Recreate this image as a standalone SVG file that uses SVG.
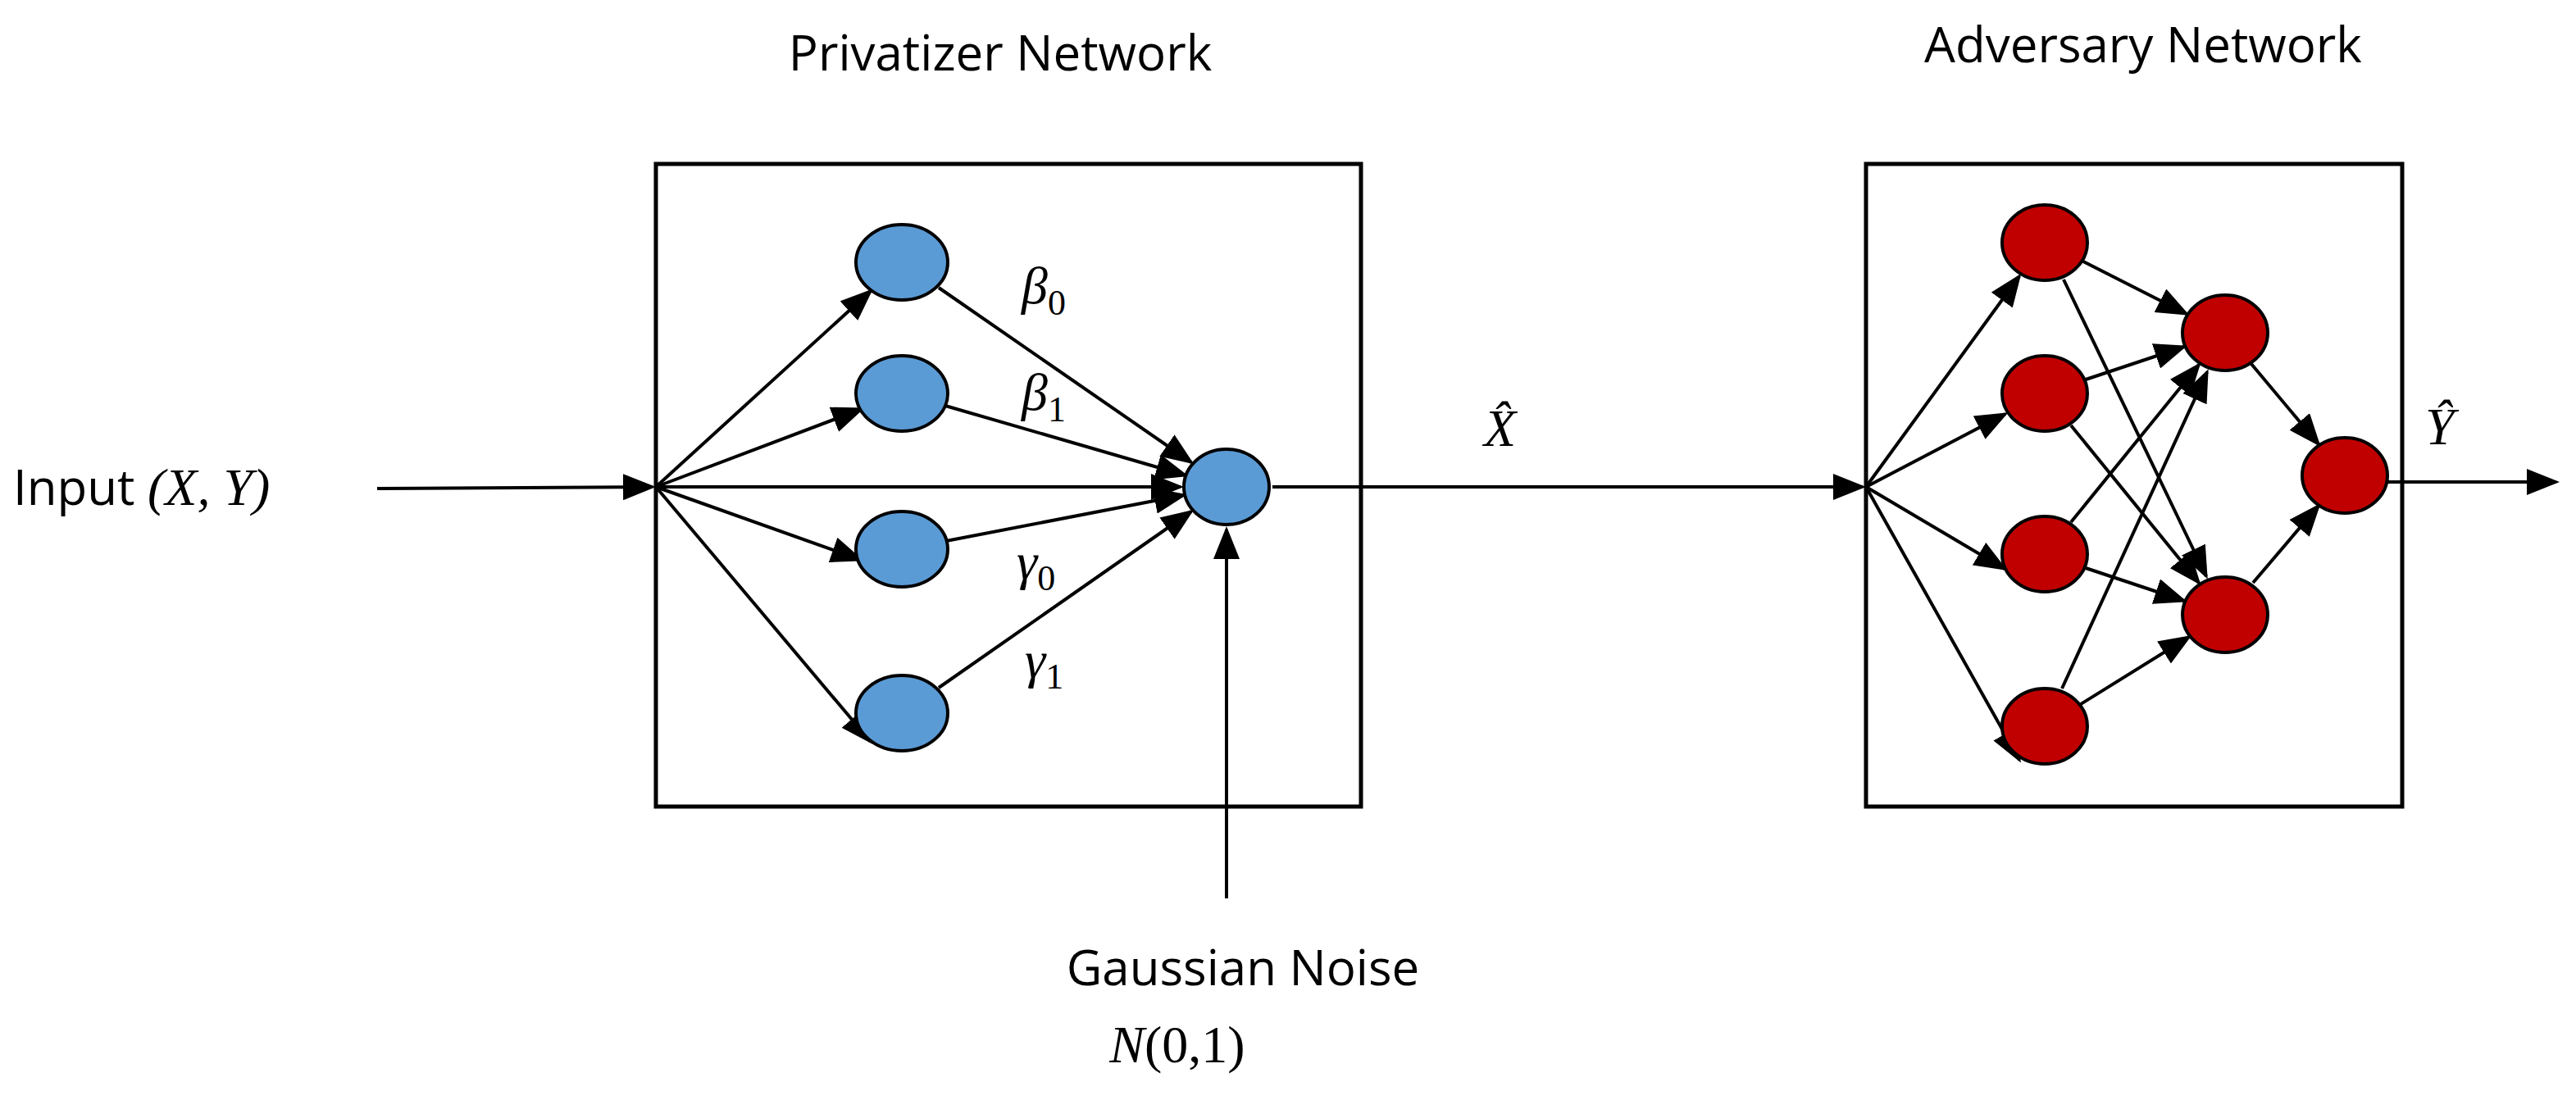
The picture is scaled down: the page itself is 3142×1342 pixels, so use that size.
<svg xmlns="http://www.w3.org/2000/svg" width="3142" height="1342" viewBox="0 0 3142 1342">
<style>
.box{fill:none;stroke:#000;stroke-width:5}
.b{fill:#5b9bd5;stroke:#000;stroke-width:4}
.r{fill:#c00000;stroke:#000;stroke-width:4}
.e{stroke:#000;stroke-width:4;fill:none;marker-end:url(#ah)}
.t{font-family:"Open Sans","Liberation Sans",sans-serif;font-size:60px;fill:#000}
.m{font-family:"Liberation Serif",serif;font-style:italic;font-size:64px;fill:#000}
.s{font-size:44px;font-style:normal}
</style>
<defs><marker id="ah" markerWidth="10" markerHeight="8" refX="9" refY="4" orient="auto" markerUnits="strokeWidth"><path d="M0,0 L10,4 L0,8 z" fill="#000"/></marker></defs>
<g id="privatizer"><rect class="box" x="800" y="200" width="860" height="784"/></g>
<g id="adversary"><rect class="box" x="2276" y="200" width="654" height="784"/></g>
<g id="connectors">
<line class="e" x1="460" y1="596" x2="796" y2="594"/>
<line class="e" x1="800" y1="594" x2="1062" y2="355"/>
<line class="e" x1="800" y1="594" x2="1051" y2="499"/>
<line class="e" x1="800" y1="594" x2="1440" y2="594"/>
<line class="e" x1="800" y1="594" x2="1050" y2="683"/>
<line class="e" x1="800" y1="594" x2="1062" y2="905"/>
<line class="e" x1="1145" y1="351" x2="1453" y2="564"/>
<line class="e" x1="1153" y1="495" x2="1446" y2="580"/>
<line class="e" x1="1154" y1="660" x2="1444" y2="604"/>
<line class="e" x1="1145" y1="839" x2="1453" y2="624"/>
<line class="e" x1="1496" y1="1096" x2="1496" y2="646"/>
<line class="e" x1="1552" y1="594" x2="2272" y2="594"/>
<line class="e" x1="2276" y1="594" x2="2463" y2="337"/>
<line class="e" x1="2276" y1="594" x2="2446" y2="505"/>
<line class="e" x1="2276" y1="594" x2="2445" y2="694"/>
<line class="e" x1="2276" y1="594" x2="2463" y2="927"/>
<line class="e" x1="2541" y1="319" x2="2667" y2="383"/>
<line class="e" x1="2517" y1="341" x2="2691" y2="703"/>
<line class="e" x1="2544" y1="463" x2="2664" y2="423"/>
<line class="e" x1="2526" y1="519" x2="2682" y2="711"/>
<line class="e" x1="2526" y1="637" x2="2682" y2="445"/>
<line class="e" x1="2544" y1="693" x2="2664" y2="733"/>
<line class="e" x1="2515" y1="840" x2="2692" y2="454"/>
<line class="e" x1="2538" y1="859" x2="2670" y2="777"/>
<line class="e" x1="2746" y1="444" x2="2828" y2="542"/>
<line class="e" x1="2748" y1="711" x2="2828" y2="617"/>
<line class="e" x1="2912" y1="588" x2="3118" y2="588"/>
</g>
<g id="b1"><ellipse class="b" cx="1100" cy="320" rx="56" ry="46"/></g>
<g id="b2"><ellipse class="b" cx="1100" cy="480" rx="56" ry="46"/></g>
<g id="b3"><ellipse class="b" cx="1100" cy="670" rx="56" ry="46"/></g>
<g id="b4"><ellipse class="b" cx="1100" cy="870" rx="56" ry="46"/></g>
<g id="bout"><ellipse class="b" cx="1496" cy="594" rx="52" ry="46"/></g>
<g id="r1"><ellipse class="r" cx="2494" cy="296" rx="52" ry="46"/></g>
<g id="r2"><ellipse class="r" cx="2494" cy="480" rx="52" ry="46"/></g>
<g id="r3"><ellipse class="r" cx="2494" cy="676" rx="52" ry="46"/></g>
<g id="r4"><ellipse class="r" cx="2494" cy="886" rx="52" ry="46"/></g>
<g id="m1"><ellipse class="r" cx="2714" cy="406" rx="52" ry="46"/></g>
<g id="m2"><ellipse class="r" cx="2714" cy="750" rx="52" ry="46"/></g>
<g id="rout"><ellipse class="r" cx="2860" cy="580" rx="52" ry="46"/></g>
<g id="labels">
<text class="t" x="1220" y="86" text-anchor="middle">Privatizer Network</text>
<text class="t" x="2614" y="76" text-anchor="middle">Adversary Network</text>
<text class="t" x="16" y="616">Input <tspan class="m" font-style="normal">(</tspan><tspan class="m">X</tspan><tspan class="m" font-style="normal">, </tspan><tspan class="m">Y</tspan><tspan class="m" font-style="normal">)</tspan></text>
<text class="t" x="1516" y="1202" text-anchor="middle">Gaussian Noise</text>
<text class="m" x="1436" y="1296" text-anchor="middle">N<tspan font-style="normal">(0,1)</tspan></text>
<text class="m" x="1246" y="370">β<tspan class="s" dy="14">0</tspan></text>
<text class="m" x="1246" y="500">β<tspan class="s" dy="14">1</tspan></text>
<text class="m" x="1240" y="706">γ<tspan class="s" dy="14">0</tspan></text>
<text class="m" x="1250" y="826">γ<tspan class="s" dy="14">1</tspan></text>
<text class="m" x="1810" y="544">X̂</text>
<text class="m" x="2958" y="542">Ŷ</text>
</g>
</svg>
